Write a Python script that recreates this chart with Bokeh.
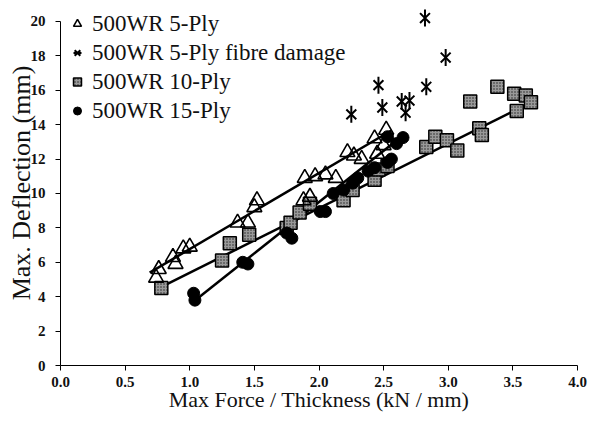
from bokeh.plotting import figure
from bokeh.models import Legend, LegendItem, FixedTicker, Range1d, PrintfTickFormatter
from bokeh.embed import file_html
from bokeh.resources import INLINE

# ---- data ----
ply5_x = [0.74, 0.76, 0.87, 0.89, 0.95, 1.00, 1.37, 1.45, 1.50, 1.52, 1.88, 1.93,
          1.89, 1.97, 2.05, 2.13, 2.22, 2.27, 2.33, 2.43, 2.45, 2.50, 2.52]
ply5_y = [5.1, 5.6, 6.3, 5.9, 6.8, 6.9, 8.3, 8.3, 9.2, 9.6, 9.6, 9.8,
          10.9, 11.0, 11.1, 10.9, 12.4, 12.2, 12.0, 13.2, 12.3, 12.8, 13.7]

dmg_x = [2.25, 2.46, 2.49, 2.64, 2.70, 2.67, 2.82, 2.83, 2.98]
dmg_y = [14.6, 16.3, 15.0, 15.35, 15.4, 14.7, 20.2, 16.2, 17.9]

ply10_x = [0.78, 1.25, 1.31, 1.46, 1.75, 1.78, 1.85, 1.93, 2.19, 2.26, 2.43, 2.46, 2.53,
           2.83, 2.90, 2.99, 3.07, 3.17, 3.24, 3.26, 3.38, 3.51, 3.60, 3.64, 3.53]
ply10_y = [4.5, 6.1, 7.1, 7.6, 8.0, 8.3, 8.9, 9.4, 9.6, 10.2, 10.8, 11.4, 11.6,
           12.7, 13.3, 13.1, 12.5, 15.35, 13.8, 13.4, 16.2, 15.8, 15.7, 15.3, 14.8]

ply15_x = [1.03, 1.04, 1.41, 1.45, 1.75, 1.79, 2.01, 2.05, 2.11, 2.19, 2.26, 2.30,
           2.38, 2.43, 2.53, 2.56, 2.53, 2.60, 2.65]
ply15_y = [4.2, 3.8, 6.0, 5.9, 7.7, 7.4, 8.95, 8.95, 10.0, 10.2, 10.6, 10.9,
           11.3, 11.5, 11.8, 12.0, 13.3, 12.9, 13.25]

# trend lines (end points)
fit5_x, fit5_y = [0.69, 2.56], [5.4, 13.66]
fit10_x, fit10_y = [0.77, 3.67], [4.53, 15.41]
fit15_x, fit15_y = [1.04, 2.60], [3.78, 13.08]

x_ticks = [0.0, 0.5, 1.0, 1.5, 2.0, 2.5, 3.0, 3.5, 4.0]
y_ticks = [0, 2, 4, 6, 8, 10, 12, 14, 16, 18, 20]

labels = ["500WR 5-Ply", "500WR 5-Ply fibre damage", "500WR 10-Ply", "500WR 15-Ply"]

SERIF = "Liberation Serif"

p = figure(width=589, height=424, output_backend="svg", toolbar_location=None,
           x_range=Range1d(0, 4), y_range=Range1d(0, 21.22),
           min_border_left=60, min_border_right=12, min_border_top=0, min_border_bottom=59)
p.outline_line_color = None
p.background_fill_color = "white"
p.border_fill_color = "white"
p.xgrid.visible = False
p.ygrid.visible = False

for ax in (p.xaxis[0], p.yaxis[0]):
    ax.axis_line_color = "black"
    ax.axis_line_width = 1
    ax.major_tick_line_color = "black"
    ax.major_tick_in = 0
    ax.major_tick_out = 5
    ax.minor_tick_line_color = None
    ax.major_label_text_font = SERIF
    ax.major_label_text_font_size = "15px"
    ax.major_label_text_font_style = "bold"
    ax.major_label_text_color = "#111111"
    ax.axis_label_text_font = SERIF
    ax.axis_label_text_font_style = "normal"
    ax.axis_label_text_color = "#111111"

p.xaxis.axis_label_text_font_size = "22px"
p.yaxis.axis_label_text_font_size = "26px"
p.xaxis.ticker = FixedTicker(ticks=x_ticks)
p.xaxis.formatter = PrintfTickFormatter(format="%.1f")
p.yaxis.ticker = FixedTicker(ticks=y_ticks)
p.yaxis.bounds = (0, 20)
p.xaxis.major_label_standoff = 6
p.yaxis.major_label_standoff = 10
p.xaxis.axis_label = "Max Force / Thickness (kN / mm)"
p.yaxis.axis_label = "Max. Deflection (mm)"
p.xaxis.axis_label_standoff = -3
p.yaxis.axis_label_standoff = -8

# trend lines
p.line(fit5_x, fit5_y, line_color="black", line_width=2.5)
p.line(fit10_x, fit10_y, line_color="black", line_width=2.5)
p.line(fit15_x, fit15_y, line_color="black", line_width=2.5)

r_sq = p.scatter(ply10_x, ply10_y, marker="square", size=13, fill_color="#999999",
                 line_color="black", line_width=1.5, hatch_pattern="dot",
                 hatch_color="#222222", hatch_scale=3, hatch_weight=1)
r_ci = p.scatter(ply15_x, ply15_y, marker="circle", size=12, fill_color="black",
                 line_color="black")
r_tr = p.scatter(ply5_x, ply5_y, marker="triangle", size=15, fill_color="white",
                 fill_alpha=0.0, line_color="black", line_width=1.6)
r_dx = p.scatter(dmg_x, dmg_y, marker="x", size=14, line_color="black", line_width=2)
r_dv = p.scatter(dmg_x, dmg_y, marker="dash", angle=1.5708, size=17, line_color="black",
                 line_width=2)

legend = Legend(items=[
    LegendItem(label=labels[0], renderers=[r_tr]),
    LegendItem(label=labels[1], renderers=[r_dx, r_dv]),
    LegendItem(label=labels[2], renderers=[r_sq]),
    LegendItem(label=labels[3], renderers=[r_ci]),
], location=(7, 241))
legend.label_text_font = SERIF
legend.label_text_font_size = "23px"
legend.label_text_color = "#111111"
legend.label_height = 27
legend.glyph_height = 27
legend.glyph_width = 20
legend.spacing = 2
legend.padding = 0
legend.margin = 0
legend.label_standoff = 5
legend.border_line_color = None
legend.background_fill_alpha = 0
p.add_layout(legend)

open("out.html", "w").write(file_html(p, INLINE))
